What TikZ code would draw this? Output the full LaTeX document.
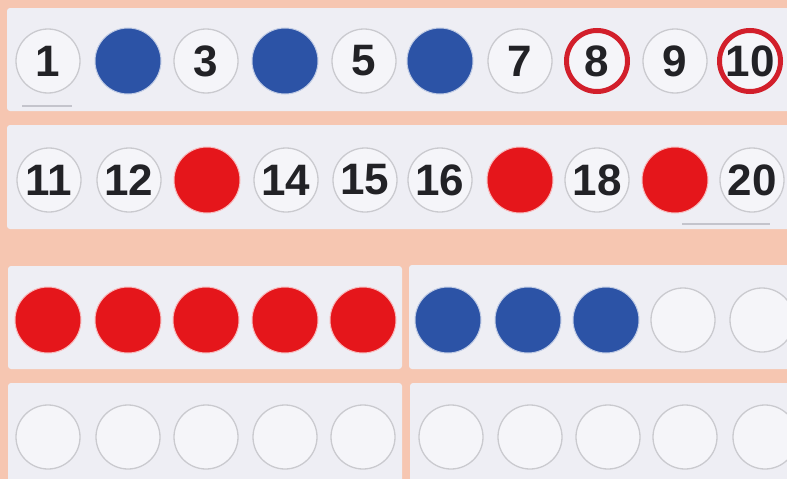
\documentclass[tikz,border=0pt]{standalone}
\usepackage{fontspec}
\setmainfont{Liberation Sans}
\definecolor{peach}{HTML}{F6C6B1}
\definecolor{panel}{HTML}{EEEEF4}
\definecolor{ringgrey}{HTML}{CACACF}
\definecolor{inner}{HTML}{F5F5F9}
\definecolor{dotblue}{HTML}{2C53A6}
\definecolor{dotred}{HTML}{E5161B}
\definecolor{ringred}{HTML}{D21F2B}
\definecolor{numtext}{HTML}{222226}
\definecolor{faint}{HTML}{C4C4CC}
\begin{document}
\begin{tikzpicture}[x=1pt,y=-1pt,
  panelbox/.style={fill=panel, rounded corners=3pt},
  numc/.style={circle, minimum size=64pt, inner sep=0pt, draw=ringgrey, line width=1.3pt, fill=inner,
    text=numtext, font=\fontsize{44}{44}\selectfont\bfseries},
  emptyc/.style={circle, minimum size=64pt, inner sep=0pt, draw=ringgrey, line width=1.3pt, fill=inner},
  bluedot/.style={circle, minimum size=66pt, inner sep=0pt, fill=dotblue, draw=white!70!dotblue, line width=1pt},
  reddot/.style={circle, minimum size=66pt, inner sep=0pt, fill=dotred, draw=white!70!dotred, line width=1pt},
  redring/.style={circle, minimum size=61pt, inner sep=0pt, draw=ringred, line width=5pt, fill=inner,
    text=numtext, font=\fontsize{44}{44}\selectfont\bfseries}]
\useasboundingbox (0,0) rectangle (787,479);
\clip (0,0) rectangle (787,479);
\fill[peach] (0,0) rectangle (787,479);
% panels
\fill[panelbox] (7,8) rectangle (800,111);
\fill[panelbox] (7,125) rectangle (800,229);
\fill[panelbox] (8,266) rectangle (402,369);
\fill[panelbox] (409,265) rectangle (800,369);
\fill[panelbox] (8,383) rectangle (402,490);
\fill[panelbox] (410,383) rectangle (800,490);
% faint print marks
\draw[faint, line width=1.5pt] (22,106) -- (72,106);
\draw[faint, line width=1.5pt] (682,224) -- (770,224);
% row 1
\node[numc] (c1) at (48,61) {1};
\node[bluedot] (c2) at (128,61) {};
\node[numc] (c3) at (206,61) {3};
\node[bluedot] (c4) at (285,61) {};
\node[numc] (c5) at (364,61) {5};
\node[bluedot] (c6) at (440,61) {};
\node[numc] (c7) at (520,61) {7};
\node[redring] (c8) at (597,61) {8};
\node[numc] (c9) at (675,61) {9};
\node[redring] (c10) at (750,61) {10};
% row 2
\node[numc] (c11) at (49,180) {11};
\node[numc] (c12) at (129,180) {12};
\node[reddot] (c13) at (207,180) {};
\node[numc] (c14) at (286,180) {14};
\node[numc] (c15) at (365,180) {15};
\node[numc] (c16) at (440,180) {16};
\node[reddot] (c17) at (520,180) {};
\node[numc] (c18) at (597,180) {18};
\node[reddot] (c19) at (675,180) {};
\node[numc] (c20) at (752,180) {20};
% row 3
\node[reddot] (r1) at (48,320) {};
\node[reddot] (r2) at (128,320) {};
\node[reddot] (r3) at (206,320) {};
\node[reddot] (r4) at (285,320) {};
\node[reddot] (r5) at (363,320) {};
\node[bluedot] (r6) at (448,320) {};
\node[bluedot] (r7) at (528,320) {};
\node[bluedot] (r8) at (606,320) {};
\node[emptyc] (r9) at (683,320) {};
\node[emptyc] (r10) at (762,320) {};
% row 4
\node[emptyc] (s1) at (48,437) {};
\node[emptyc] (s2) at (128,437) {};
\node[emptyc] (s3) at (206,437) {};
\node[emptyc] (s4) at (285,437) {};
\node[emptyc] (s5) at (363,437) {};
\node[emptyc] (s6) at (451,437) {};
\node[emptyc] (s7) at (530,437) {};
\node[emptyc] (s8) at (608,437) {};
\node[emptyc] (s9) at (685,437) {};
\node[emptyc] (s10) at (765,437) {};
\end{tikzpicture}
\end{document}
